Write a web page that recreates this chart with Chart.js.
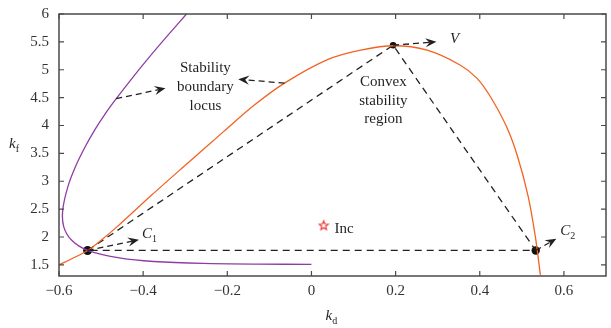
<!DOCTYPE html>
<html>
<head>
<meta charset="utf-8">
<script src="https://cdn.jsdelivr.net/npm/chart.js@4.4.1/dist/chart.umd.min.js"></script>
<style>
  html, body { margin: 0; padding: 0; background: #fff; }
  #wrap { width: 611px; height: 328px; }
</style>
</head>
<body>
<div id="wrap"><canvas id="chart" width="611" height="328"></canvas></div>
<script>
const xTicks = [-0.6, -0.4, -0.2, 0, 0.2, 0.4, 0.6];
const yTicks = [1.5, 2, 2.5, 3, 3.5, 4, 4.5, 5, 5.5, 6];

// stability boundary locus (purple)
const locusKd = [-0.297, -0.341, -0.385, -0.425, -0.464, -0.491, -0.515, -0.539, -0.561, -0.579, -0.591, -0.589, -0.571, -0.532, -0.453, -0.375, -0.257, -0.13, 0];
const locusKf = [6.0, 5.62, 5.23, 4.86, 4.48, 4.2, 3.92, 3.6, 3.26, 2.9, 2.49, 2.19, 1.95, 1.76, 1.62, 1.56, 1.525, 1.513, 1.51];

// outer boundary (orange)
const edgeKd = [-0.6, -0.571, -0.532, -0.5, -0.461, -0.383, -0.304, -0.209, -0.135, -0.064, 0.038, 0.117, 0.196, 0.275, 0.353, 0.393, 0.425, 0.4635, 0.490, 0.515, 0.532, 0.544];
const edgeKf = [1.5, 1.605, 1.758, 1.94, 2.19, 2.73, 3.26, 3.89, 4.37, 4.76, 5.18, 5.35, 5.43, 5.35, 5.086, 4.85, 4.52, 3.98, 3.44, 2.73, 2.01, 1.32];

// convex region vertices C1, V, C2
const vertexNames = ['C1', 'V', 'C2'];
const vertexKd = [-0.532, 0.194, 0.533];
const vertexKf = [1.758, 5.44, 1.758];

const incKd = [0.029];
const incKf = [2.21];

// arrows: start -> tip
const arrowFromKd = [-0.532, 0.194, 0.533, -0.464, -0.064];
const arrowFromKf = [1.758, 5.44, 1.758, 4.48, 4.76];
const arrowToKd = [-0.41, 0.297, 0.582, -0.347, -0.174];
const arrowToKf = [1.95, 5.50, 1.97, 4.67, 4.83];

const FONT = '"Liberation Serif", "DejaVu Serif", serif';
const INK = '#231f20';

function pts(xs, ys) {
    return xs.map((x, i) => ({ x: x, y: ys[i] }));
}

function fmt(v) {
    if (v === 0) return '0';
    return v < 0 ? '\u2212' + String(Math.abs(v)) : String(v);
}

function starImage() {
    const c = document.createElement('canvas');
    c.width = 12; c.height = 12;
    const g = c.getContext('2d');
    g.strokeStyle = '#e8312a';
    g.lineWidth = 1.1;
    g.beginPath();
    for (let i = 0; i < 10; i++) {
        const r = i % 2 === 0 ? 4.8 : 2.1;
        const a = -Math.PI / 2 + i * Math.PI / 5;
        const px = 6 + r * Math.cos(a), py = 6.4 + r * Math.sin(a);
        if (i === 0) g.moveTo(px, py); else g.lineTo(px, py);
    }
    g.closePath();
    g.stroke();
    return c;
}

function drawArrow(ctx, x1, y1, x2, y2) {
    const ang = Math.atan2(y2 - y1, x2 - x1);
    const dx = Math.cos(ang), dy = Math.sin(ang);
    const len = 11, half = 4.6, notch = 7;
    const bx = x2 - dx * notch, by = y2 - dy * notch;
    ctx.save();
    ctx.strokeStyle = INK;
    ctx.fillStyle = INK;
    ctx.lineWidth = 1.3;
    ctx.setLineDash([6, 4]);
    ctx.beginPath();
    ctx.moveTo(x1, y1);
    ctx.lineTo(bx, by);
    ctx.stroke();
    ctx.setLineDash([]);
    ctx.beginPath();
    ctx.moveTo(x2, y2);
    ctx.lineTo(x2 - dx * len - dy * half, y2 - dy * len + dx * half);
    ctx.lineTo(bx, by);
    ctx.lineTo(x2 - dx * len + dy * half, y2 - dy * len - dx * half);
    ctx.closePath();
    ctx.fill();
    ctx.restore();
}

function drawSub(ctx, main, sub, x, y) {
    ctx.font = 'italic 15px ' + FONT;
    ctx.textAlign = 'left';
    ctx.textBaseline = 'alphabetic';
    ctx.fillText(main, x, y);
    const w = ctx.measureText(main).width;
    ctx.font = '10px ' + FONT;
    ctx.fillText(sub, x + w, y + 4);
}

const framePlugin = {
    id: 'frame',
    afterDatasetsDraw(chart) {
        const ctx = chart.ctx;
        const a = chart.chartArea;
        const xs = chart.scales.x, ys = chart.scales.y;
        ctx.save();
        ctx.strokeStyle = '#4a4a4a';
        ctx.lineWidth = 1.5;
        ctx.strokeRect(a.left, a.top, a.right - a.left, a.bottom - a.top);
        ctx.lineWidth = 1.2;
        ctx.beginPath();
        xTicks.forEach(v => {
            const px = xs.getPixelForValue(v);
            ctx.moveTo(px, a.bottom); ctx.lineTo(px, a.bottom - 5);
            ctx.moveTo(px, a.top); ctx.lineTo(px, a.top + 5);
        });
        yTicks.forEach(v => {
            const py = ys.getPixelForValue(v);
            ctx.moveTo(a.left, py); ctx.lineTo(a.left + 5, py);
            ctx.moveTo(a.right, py); ctx.lineTo(a.right - 5, py);
        });
        ctx.stroke();
        ctx.restore();
    }
};

const notesPlugin = {
    id: 'notes',
    afterDraw(chart) {
        const ctx = chart.ctx;
        const xs = chart.scales.x, ys = chart.scales.y;
        const a = chart.chartArea;
        const X = v => xs.getPixelForValue(v);
        const Y = v => ys.getPixelForValue(v);
        ctx.save();
        arrowFromKd.forEach((v, i) => {
            drawArrow(ctx, X(v), Y(arrowFromKf[i]), X(arrowToKd[i]), Y(arrowToKf[i]));
        });

        ctx.fillStyle = INK;
        drawSub(ctx, 'C', '1', X(-0.403), Y(1.986));
        drawSub(ctx, 'C', '2', X(0.591), Y(2.04));
        ctx.font = 'italic 15px ' + FONT;
        ctx.fillText('V', X(0.329), Y(5.48));

        ctx.font = '15px ' + FONT;
        ctx.fillText('Inc', X(0.055), Y(2.08));

        ctx.textAlign = 'center';
        const sx = X(-0.252);
        ['Stability', 'boundary', 'locus'].forEach((t, i) => ctx.fillText(t, sx, 72 + i * 19));
        const cx = X(0.171);
        ['Convex', 'stability', 'region'].forEach((t, i) => ctx.fillText(t, cx, 86 + i * 18.5));

        // axis titles
        const mid = (a.left + a.right) / 2;
        drawSub(ctx, 'k', 'd', mid - 7, 320);
        drawSub(ctx, 'k', 'f', 9, 148);
        ctx.restore();
    }
};

function initChart() {
    new Chart(document.getElementById('chart'), {
        type: 'scatter',
        data: {
            datasets: [
                { data: pts(locusKd, locusKf), showLine: true, borderColor: '#8e3ea3', borderWidth: 1.3, pointRadius: 0, tension: 0.3 },
                { data: pts(edgeKd, edgeKf), showLine: true, borderColor: '#f26322', borderWidth: 1.3, pointRadius: 0, tension: 0.35 },
                {
                    data: pts([vertexKd[0], vertexKd[1], vertexKd[2], vertexKd[0]], [vertexKf[0], vertexKf[1], vertexKf[2], vertexKf[0]]),
                    showLine: true, borderColor: INK, borderWidth: 1.3, borderDash: [7, 5], pointRadius: 0, tension: 0
                },
                { data: pts(vertexKd, vertexKf), showLine: false, pointRadius: [4.5, 3.3, 4.2], backgroundColor: '#111', borderColor: '#111', borderWidth: 0 },
                { data: pts(incKd, incKf), showLine: false, pointStyle: starImage() }
            ]
        },
        options: {
            responsive: false,
            animation: false,
            devicePixelRatio: 1,
            layout: { padding: { top: 14, right: 1, left: 0, bottom: 0 } },
            plugins: { legend: { display: false }, tooltip: { enabled: false } },
            scales: {
                x: {
                    type: 'linear', min: -0.6, max: 0.7,
                    afterBuildTicks: s => { s.ticks = xTicks.map(v => ({ value: v })); },
                    afterFit: s => { s.height = 52; s.paddingLeft = 0; s.paddingRight = 0; },
                    grid: { display: false, drawTicks: false },
                    border: { display: false },
                    ticks: { padding: 6, color: '#333', font: { family: FONT, size: 15 }, callback: fmt, maxRotation: 0, autoSkip: false }
                },
                y: {
                    type: 'linear', min: 1.3, max: 6,
                    afterBuildTicks: s => { s.ticks = yTicks.map(v => ({ value: v })); },
                    afterFit: s => { s.width = 59; s.paddingTop = 0; s.paddingBottom = 0; },
                    grid: { display: false, drawTicks: false },
                    border: { display: false },
                    ticks: { padding: 10, color: '#333', font: { family: FONT, size: 15 }, callback: fmt, autoSkip: false }
                }
            }
        },
        plugins: [framePlugin, notesPlugin]
    });
}

window.onload = initChart;
</script>
</body>
</html>
